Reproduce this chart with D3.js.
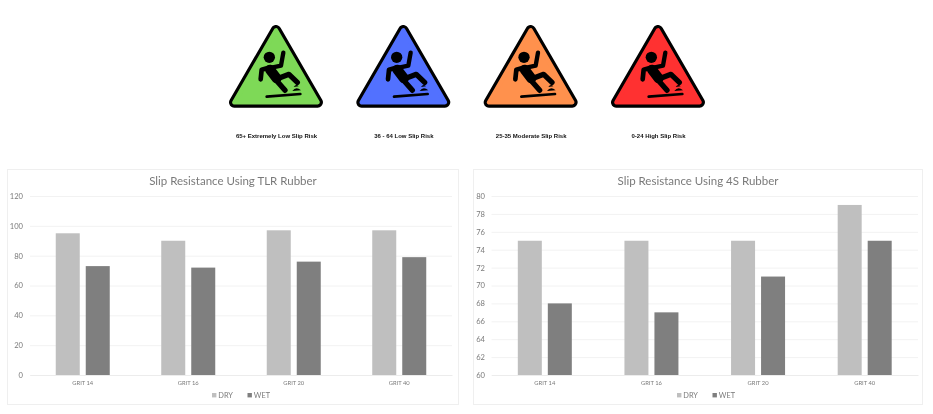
<!DOCTYPE html>
<html><head><meta charset="utf-8">
<script src="https://cdn.jsdelivr.net/npm/d3@7"></script>
<style>html,body{margin:0;padding:0;background:#fff}svg{display:block;filter:blur(0.35px)}</style>
</head><body><svg id="c" width="933" height="414"></svg>
<script>
const categories = ["GRIT 14","GRIT 16","GRIT 20","GRIT 40"];
const seriesNames = ["DRY","WET"];
const tlrDry = [95,90,97,97];
const tlrWet = [73,72,76,79];
const fourSDry = [75,75,75,79];
const fourSWet = [68,67,71,75];
const tlrTicks = [0,20,40,60,80,100,120];
const fourSTicks = [60,62,64,66,68,70,72,74,76,78,80];
const riskLabels = ["65+ Extremely Low Slip Risk","36 - 64 Low Slip Risk","25-35 Moderate Slip Risk","0-24 High Slip Risk"];
const riskColors = ["#7ed957","#5271ff","#ff914d","#ff3131"];
const seriesColors = ["#bfbfbf","#7f7f7f"];

const svg = d3.select("#c");

const iconX = d3.scalePoint().domain(riskLabels).range([276,658]);
riskLabels.forEach((lab,i)=>{
  const g = svg.append("g").attr("transform",`translate(${iconX(lab)},25) scale(0.3333) translate(-168,-30)`);
  const tri = "M168 46 L43 262 L293 262 Z";
  g.append("path").attr("d",tri).attr("fill","#000").attr("stroke","#000").attr("stroke-width",32).attr("stroke-linejoin","round");
  g.append("path").attr("d",tri).attr("fill",riskColors[i]).attr("stroke",riskColors[i]).attr("stroke-width",13).attr("stroke-linejoin","round");
  g.append("circle").attr("cx",148).attr("cy",127).attr("r",17).attr("fill","#000");
  const lines = [
    ["M155 158 L183 152 L190 113",13],
    ["M146 158 L125 164 L122 193",14],
    ["M150 164 L170 190",30],
    ["M170 192 L207 178 L232 202",16],
    ["M168 195 L195 226",16]
  ];
  lines.forEach(([d,w])=>g.append("path").attr("d",d).attr("fill","none").attr("stroke","#000")
    .attr("stroke-width",w).attr("stroke-linecap","round").attr("stroke-linejoin","round"));
  g.append("path").attr("d","M140 245 L241 237").attr("stroke","#000").attr("stroke-width",8).attr("stroke-linecap","round");
  g.append("path").attr("d","M217 228 Q228 212 243 226 Z").attr("fill","#000");
  g.append("path").attr("d","M221 216 Q228 205 236 214 Z").attr("fill","#000");
  svg.append("text").attr("x",iconX(lab)+0.5).attr("y",137.5).attr("text-anchor","middle")
    .attr("font-family","'Liberation Sans',sans-serif").attr("font-weight","bold").attr("font-size",6)
    .attr("fill","#111").text(lab);
});

function chart(cfg){
  const {card,plot,title,dry,wet,ticks,domain} = cfg;
  const g = svg.append("g");
  g.append("rect").attr("x",card.x0).attr("y",card.y0).attr("width",card.x1-card.x0).attr("height",card.y1-card.y0)
    .attr("fill","#fff").attr("stroke","#efefef").attr("stroke-width",1);
  const y = d3.scaleLinear().domain(domain).range([plot.y1,plot.y0]);
  const x0 = d3.scaleBand().domain(categories).range([plot.x0,plot.x1]);
  const barW = 24, gap = 6;
  const x1 = d3.scaleOrdinal().domain(seriesNames).range([-(barW+gap/2),gap/2]);

  const yAxis = d3.axisLeft(y).tickValues(ticks).tickSize(-(plot.x1-plot.x0)).tickFormat(d3.format("d"));
  const ya = g.append("g").attr("transform",`translate(${plot.x0},0)`).call(yAxis);
  ya.select(".domain").remove();
  ya.selectAll("line").attr("stroke","#f2f2f2").attr("stroke-width",1);
  ya.selectAll("text").attr("x",cfg.tickX-plot.x0).attr("text-anchor","end")
    .attr("font-family","Lato,sans-serif").attr("font-size",7.6).attr("fill","#7a7a7a");

  [dry,wet].forEach((vals,s)=>{
    g.append("g").selectAll("rect").data(vals).join("rect")
      .attr("x",(d,i)=>x0(categories[i])+x0.bandwidth()/2+x1(seriesNames[s]))
      .attr("y",d=>y(d)).attr("width",barW).attr("height",d=>y(domain[0])-y(d))
      .attr("fill",seriesColors[s]);
  });

  const xAxis = d3.axisBottom(x0).tickSize(0);
  const xa = g.append("g").attr("transform",`translate(0,${plot.y1})`).call(xAxis);
  xa.select(".domain").attr("stroke","#ececec");
  xa.selectAll("text").attr("y",6).attr("dy","0.71em").attr("font-family","Lato,sans-serif").attr("font-size",5.8).attr("fill","#7a7a7a");

  g.append("text").attr("x",(card.x0+card.x1)/2+cfg.titleDx).attr("y",185).attr("text-anchor","middle")
    .attr("font-family","Lato,sans-serif").attr("font-size",11.5).attr("fill","#7a7a7a").text(title);

  seriesNames.forEach((n,s)=>{
    const lx = cfg.legendX + s*35.5;
    g.append("rect").attr("x",lx).attr("y",393).attr("width",4.4).attr("height",4.4).attr("fill",seriesColors[s]);
    g.append("text").attr("x",lx+6.3).attr("y",398.2).attr("font-family","Lato,sans-serif").attr("font-size",7.4)
      .attr("fill","#7a7a7a").text(n);
  });
}

chart({card:{x0:7.5,x1:458.5,y0:169.5,y1:404.5},plot:{x0:30,x1:452,y0:196,y1:375},tickX:23,
  title:"Slip Resistance Using TLR Rubber",dry:tlrDry,wet:tlrWet,ticks:tlrTicks,domain:[0,120],legendX:212,titleDx:0});
chart({card:{x0:473.5,x1:922.5,y0:169.5,y1:404.5},plot:{x0:491.5,x1:918,y0:196,y1:375},tickX:485,
  title:"Slip Resistance Using 4S Rubber",dry:fourSDry,wet:fourSWet,ticks:fourSTicks,domain:[60,80],legendX:677,titleDx:0});
</script></body></html>
